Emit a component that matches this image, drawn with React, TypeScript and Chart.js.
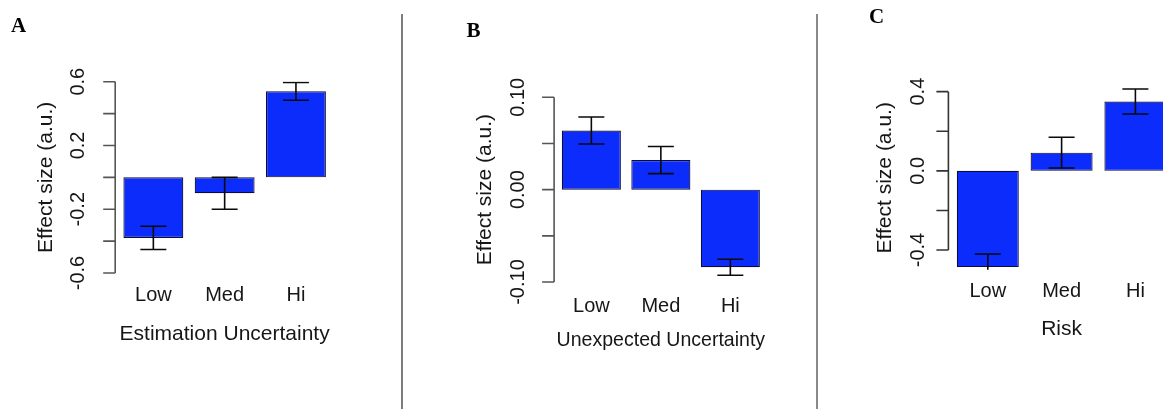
import React, { useEffect, useRef } from "react";
import { Chart, registerables } from "chart.js";

Chart.register(...registerables);

// ---------------- data ----------------
const CATEGORIES = ["Low", "Med", "Hi"];

const VALUES_A = [-0.38, -0.1, 0.54];
const ERRORS_A = [0.073, 0.1, 0.056];
const TICKS_A = [-0.6, -0.4, -0.2, 0, 0.2, 0.4, 0.6];
const TICK_LABELS_A = ["-0.6", "", "-0.2", "", "0.2", "", "0.6"];
const X_TITLE_A = "Estimation Uncertainty";

const VALUES_B = [0.064, 0.032, -0.084];
const ERRORS_B = [0.0146, 0.0147, 0.0087];
const TICKS_B = [-0.1, -0.05, 0, 0.05, 0.1];
const TICK_LABELS_B = ["-0.10", "", "0.00", "", "0.10"];
const X_TITLE_B = "Unexpected Uncertainty";

const VALUES_C = [-0.486, 0.092, 0.35];
const ERRORS_C = [0.066, 0.078, 0.063];
const TICKS_C = [-0.4, -0.2, 0, 0.2, 0.4];
const TICK_LABELS_C = ["-0.4", "", "0.0", "", "0.4"];
const X_TITLE_C = "Risk";

const Y_TITLE = "Effect size (a.u.)";
const PANEL_LETTERS = ["A", "B", "C"];

// ---------------- layout / style ----------------
const CANVAS_W = 1200;
const CANVAS_H = 409;
const FONT = "'Liberation Sans', Arial, Helvetica, sans-serif";
const TEXT_COLOR = "#161616";
const BAR_COLOR = "#0b2cfb";
const TICK_FONT_SIZE = 20;
const TITLE_FONT_SIZE = 21;
const TITLE_HALF_LINE = (TITLE_FONT_SIZE * 1.2) / 2;

type PanelCfg = {
  values: number[];
  errors: number[];
  ticks: number[];
  tickLabels: string[];
  xTitle: string;
  padLeft: number;
  chartLeft: number;
  chartRight: number;
  chartTop: number;
  chartBottom: number;
  yMin: number;
  yMax: number;
  yTickPad: number;
  yTitleX: number;
  xTickPad: number;
  xTitleY: number;
  barPct: number;
  axisColor: string;
};

const PANELS: PanelCfg[] = [
  {
    values: VALUES_A, errors: ERRORS_A, ticks: TICKS_A, tickLabels: TICK_LABELS_A, xTitle: X_TITLE_A,
    padLeft: 0, chartLeft: 117.7, chartRight: 331.6, chartTop: 81.7, chartBottom: 273,
    yMin: -0.6, yMax: 0.6, yTickPad: 22.2, yTitleX: 46, xTickPad: 10, xTitleY: 334, barPct: 0.84,
    axisColor: "#555555",
  },
  {
    values: VALUES_B, errors: ERRORS_B, ticks: TICKS_B, tickLabels: TICK_LABELS_B, xTitle: X_TITLE_B,
    padLeft: 403, chartLeft: 556.6, chartRight: 765.1, chartTop: 97.3, chartBottom: 282,
    yMin: -0.1, yMax: 0.1, yTickPad: 15.5, yTitleX: 485, xTickPad: 12.7, xTitleY: 340.3, barPct: 0.85,
    axisColor: "#555555",
  },
  {
    values: VALUES_C, errors: ERRORS_C, ticks: TICKS_C, tickLabels: TICK_LABELS_C, xTitle: X_TITLE_C,
    padLeft: 820, chartLeft: 950.9, chartRight: 1172.3, chartTop: 85.7, chartBottom: 269.85,
    yMin: -0.5, yMax: 0.43, yTickPad: 15.4, yTitleX: 885, xTickPad: 10, xTitleY: 328.8, barPct: 0.84,
    axisColor: "#333333",
  },
];

function Panel({ cfg }: { cfg: PanelCfg }) {
  const ref = useRef<HTMLCanvasElement | null>(null);

  useEffect(() => {
    if (!ref.current) return;
    const xHeight = cfg.xTitleY + TITLE_HALF_LINE - cfg.chartBottom;

    const errorBars = {
      id: "errorBars",
      afterDatasetsDraw(chart: any) {
        const { ctx, chartArea, scales } = chart;
        const y = scales.y;
        const meta = chart.getDatasetMeta(0);
        ctx.save();
        ctx.beginPath();
        ctx.rect(chartArea.left, chartArea.top, chartArea.right - chartArea.left, chartArea.bottom - chartArea.top);
        ctx.clip();
        ctx.strokeStyle = "#0a0a0a";
        ctx.lineWidth = 1.6;
        meta.data.forEach((bar: any, i: number) => {
          const v = cfg.values[i];
          const e = cfg.errors[i];
          const yHi = y.getPixelForValue(v + e);
          const yLo = y.getPixelForValue(v - e);
          ctx.beginPath();
          ctx.moveTo(bar.x, yHi);
          ctx.lineTo(bar.x, yLo);
          ctx.moveTo(bar.x - 13, yHi);
          ctx.lineTo(bar.x + 13, yHi);
          ctx.moveTo(bar.x - 13, yLo);
          ctx.lineTo(bar.x + 13, yLo);
          ctx.stroke();
        });
        ctx.restore();
      },
    };

    const axisLine = {
      id: "axisLine",
      afterDraw(chart: any) {
        const { ctx, chartArea, scales } = chart;
        const y = scales.y;
        const x0 = chartArea.left - 2.5;
        const t = cfg.ticks;
        ctx.save();
        ctx.strokeStyle = cfg.axisColor;
        ctx.lineWidth = 1.6;
        ctx.beginPath();
        ctx.moveTo(x0, y.getPixelForValue(t[0]));
        ctx.lineTo(x0, y.getPixelForValue(t[t.length - 1]));
        t.forEach((v) => {
          const py = y.getPixelForValue(v);
          ctx.moveTo(x0 - 12, py);
          ctx.lineTo(x0, py);
        });
        ctx.stroke();
        ctx.restore();
      },
    };

    const chart = new Chart(ref.current, {
      type: "bar",
      data: {
        labels: CATEGORIES,
        datasets: [
          {
            data: cfg.values,
            backgroundColor: BAR_COLOR,
            borderColor: "#0c0c3c",
            borderWidth: 1.2,
            borderSkipped: false,
            barPercentage: cfg.barPct,
            categoryPercentage: 1,
          },
        ],
      },
      options: {
        responsive: false,
        animation: false,
        devicePixelRatio: 1,
        layout: {
          padding: {
            left: cfg.padLeft,
            right: CANVAS_W - cfg.chartRight,
            top: cfg.chartTop,
            bottom: CANVAS_H - cfg.chartBottom - xHeight,
          },
        },
        plugins: {
          legend: { display: false },
          tooltip: { enabled: false },
        },
        scales: {
          x: {
            type: "category",
            offset: true,
            grid: { display: false, drawTicks: false },
            border: { display: false },
            ticks: {
              color: TEXT_COLOR,
              font: { family: FONT, size: TICK_FONT_SIZE },
              padding: cfg.xTickPad,
              maxRotation: 0,
              minRotation: 0,
            },
            title: {
              display: true,
              text: cfg.xTitle,
              color: TEXT_COLOR,
              font: { family: FONT, size: TITLE_FONT_SIZE },
              padding: { top: 0, bottom: 0 },
            },
            afterFit(scale: any) {
              scale.height = xHeight;
            },
          },
          y: {
            type: "linear",
            min: cfg.yMin,
            max: cfg.yMax,
            grid: { display: false, drawTicks: false },
            border: { display: false },
            afterBuildTicks(scale: any) {
              scale.ticks = cfg.ticks.map((v) => ({ value: v }));
            },
            ticks: {
              color: TEXT_COLOR,
              font: { family: FONT, size: TICK_FONT_SIZE },
              minRotation: 90,
              maxRotation: 90,
              crossAlign: "center",
              padding: cfg.yTickPad,
              autoSkip: false,
              callback: (_v: any, i: number) => cfg.tickLabels[i] ?? "",
            },
            title: {
              display: true,
              text: Y_TITLE,
              color: TEXT_COLOR,
              font: { family: FONT, size: TITLE_FONT_SIZE },
              padding: { top: cfg.yTitleX - cfg.padLeft - TITLE_HALF_LINE, bottom: 0 },
            },
            afterFit(scale: any) {
              scale.width = cfg.chartLeft - cfg.padLeft;
            },
          },
        },
      },
      plugins: [errorBars, axisLine],
    } as any);

    return () => chart.destroy();
  }, [cfg]);

  return (
    <canvas
      ref={ref}
      width={CANVAS_W}
      height={CANVAS_H}
      style={{ position: "absolute", left: 0, top: 0, width: CANVAS_W, height: CANVAS_H }}
    />
  );
}

const LETTER_POS = [
  { left: 11, top: 15.4 },
  { left: 466.5, top: 20 },
  { left: 869, top: 6 },
];

export default function App() {
  return (
    <div
      style={{
        position: "absolute",
        left: 0,
        top: 0,
        width: 1163,
        height: 409,
        overflow: "hidden",
        background: "#ffffff",
      }}
    >
      {PANELS.map((p, i) => (
        <Panel key={i} cfg={p} />
      ))}
      <div style={{ position: "absolute", left: 401, top: 14, width: 2, height: 395, background: "#7d7d7d" }} />
      <div style={{ position: "absolute", left: 816, top: 14, width: 2, height: 395, background: "#8a8a8a" }} />
      {PANEL_LETTERS.map((l, i) => (
        <div
          key={l}
          style={{
            position: "absolute",
            left: LETTER_POS[i].left,
            top: LETTER_POS[i].top,
            fontFamily: "'Liberation Serif', 'Times New Roman', serif",
            fontWeight: "bold",
            fontSize: 21,
            lineHeight: "21px",
            color: "#000",
          }}
        >
          {l}
        </div>
      ))}
    </div>
  );
}
